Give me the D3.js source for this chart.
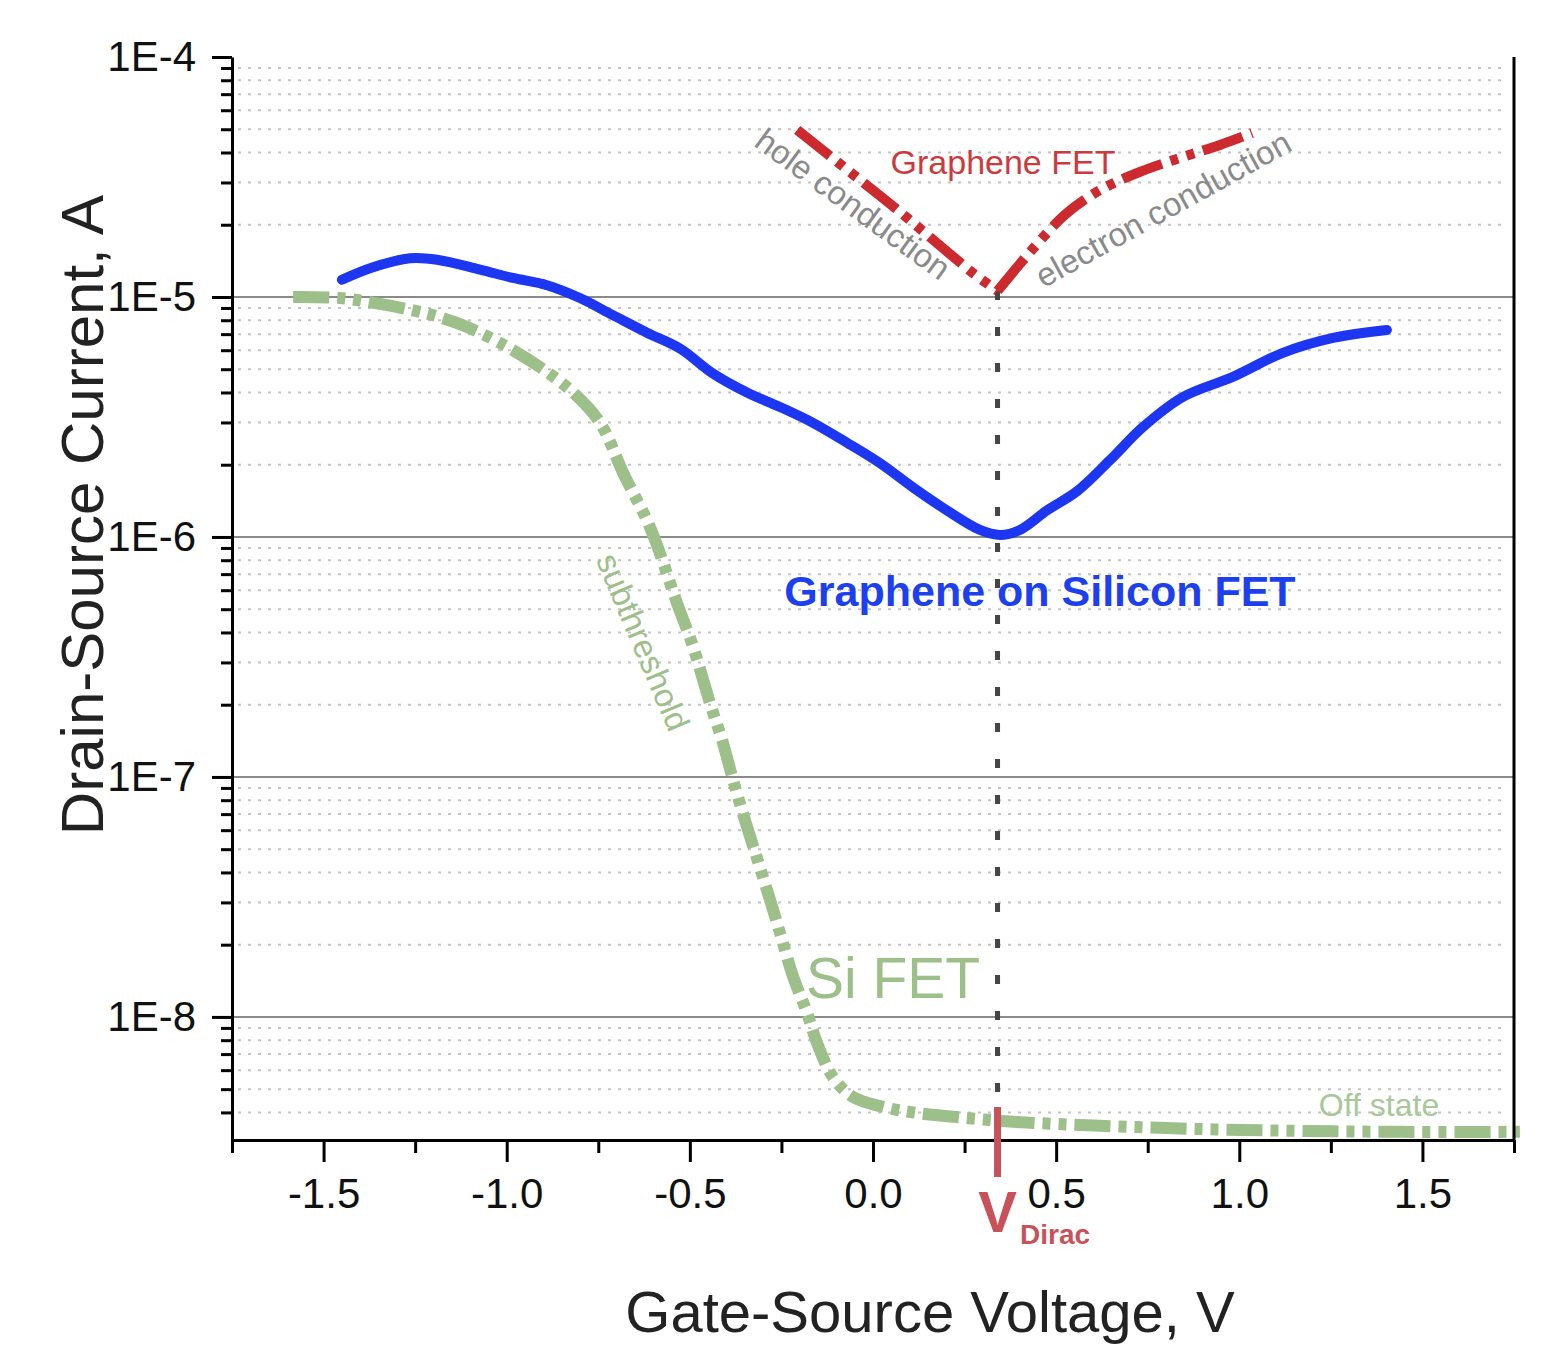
<!DOCTYPE html>
<html><head><meta charset="utf-8">
<style>
body { margin: 0; background: #fff; }
svg { font-family: "Liberation Sans", Arial, sans-serif; }
.axis path, .axis line { stroke: #000; stroke-width: 3px; }
.axis text { font-size: 42px; fill: #111; }
</style>
</head>
<body>
<svg width="1545" height="1348"></svg>
<script src="https://cdn.jsdelivr.net/npm/d3@7"></script>
<script>

// tick values
var xMajor = [-1.5, -1.0, -0.5, 0.0, 0.5, 1.0, 1.5];
var xMinor = [-1.75, -1.25, -0.75, -0.25, 0.25, 0.75, 1.25, 1.75];
var yMajor = [1e-4, 1e-5, 1e-6, 1e-7, 1e-8];
var yLabels = ["1E-4", "1E-5", "1E-6", "1E-7", "1E-8"];

// graphene on silicon FET (blue)
var gsV = [-1.450, -1.365, -1.264, -1.190, -1.073, -0.983, -0.890, -0.800, -0.710, -0.617,
           -0.527, -0.437, -0.344, -0.254, -0.164, -0.071, 0.019, 0.109, 0.202, 0.292,
           0.347, 0.401, 0.475, 0.557, 0.647, 0.737, 0.846, 0.983, 1.119, 1.256, 1.403];
var gsI = [1.18e-5, 1.33e-5, 1.45e-5, 1.43e-5, 1.30e-5, 1.20e-5, 1.12e-5, 9.9e-6, 8.4e-6, 7.1e-6,
           6.1e-6, 4.8e-6, 4.0e-6, 3.48e-6, 2.99e-6, 2.47e-6, 2.03e-6, 1.61e-6, 1.29e-6, 1.07e-6,
           1.02e-6, 1.07e-6, 1.29e-6, 1.55e-6, 2.09e-6, 2.87e-6, 3.83e-6, 4.65e-6, 5.85e-6, 6.75e-6, 7.29e-6];

// Si FET (green)
var siV = [-1.583, -1.455, -1.354, -1.256, -1.190, -1.108, -0.999, -0.909, -0.819, -0.745,
           -0.680, -0.609, -0.535, -0.491, -0.445, -0.410, -0.382, -0.344, -0.317, -0.281,
           -0.254, -0.218, -0.180, -0.153, -0.109, -0.055, 0.027, 0.120, 0.257, 0.393,
           0.620, 0.893, 1.166, 1.439, 1.766];
var siI = [1.0e-5, 9.9e-6, 9.4e-6, 8.8e-6, 8.3e-6, 7.5e-6, 6.2e-6, 5.1e-6, 4.0e-6, 2.99e-6,
           1.82e-6, 1.10e-6, 5.3e-7, 3.48e-7, 2.03e-7, 1.39e-7, 9.7e-8, 6.2e-8, 4.6e-8, 3.07e-8,
           2.24e-8, 1.47e-8, 1.04e-8, 7.8e-9, 5.6e-9, 4.64e-9, 4.22e-9, 3.98e-9, 3.79e-9, 3.65e-9,
           3.52e-9, 3.41e-9, 3.35e-9, 3.32e-9, 3.32e-9];

// graphene FET (red), hole and electron branches
var holeV = [-0.207, -0.063, 0.074, 0.197, 0.278, 0.340];
var holeI = [4.97e-5, 3.32e-5, 2.26e-5, 1.57e-5, 1.24e-5, 1.06e-5];
var elecV = [0.340, 0.429, 0.524, 0.620, 0.729, 0.838, 0.947, 1.035];
var elecI = [1.06e-5, 1.54e-5, 2.2e-5, 2.79e-5, 3.32e-5, 3.8e-5, 4.3e-5, 4.82e-5];

var vDirac = 0.34;

var svg = d3.select("svg");

var x = d3.scaleLinear().domain([-1.75, 1.75]).range([232, 1514]);
var y = d3.scaleLog().domain([3.07e-9, 1e-4]).range([1140, 57]);

var yMinor = [];
for (var e = -9; e <= -5; e++) {
  for (var m = 2; m <= 9; m++) {
    var v = m * Math.pow(10, e);
    if (v > y.domain()[0] && v < y.domain()[1]) yMinor.push(v);
  }
}

// grid
svg.append("g").selectAll("line")
    .data(yMinor)
  .enter().append("line")
    .attr("x1", x(-1.75) + 6).attr("x2", x(1.75) - 8)
    .attr("y1", function(d) { return y(d); })
    .attr("y2", function(d) { return y(d); })
    .style("stroke", "#c4c4c4")
    .style("stroke-width", 2)
    .style("stroke-dasharray", "3,7");

svg.append("g").selectAll("line")
    .data(yMajor.slice(1))
  .enter().append("line")
    .attr("x1", x(-1.75)).attr("x2", x(1.75))
    .attr("y1", function(d) { return y(d); })
    .attr("y2", function(d) { return y(d); })
    .style("stroke", "#8a8a8a")
    .style("stroke-width", 2);

// Dirac dashed line
svg.append("line")
    .attr("x1", x(vDirac)).attr("x2", x(vDirac))
    .attr("y1", y(1.06e-5)).attr("y2", y.range()[0])
    .style("stroke", "#444")
    .style("stroke-width", 5)
    .style("stroke-dasharray", "9,27");

// curves
var line = d3.line()
    .curve(d3.curveCatmullRom)
    .x(function(d) { return x(d[0]); })
    .y(function(d) { return y(d[1]); });

svg.append("path")
    .attr("d", line(d3.zip(siV, siI)))
    .style("fill", "none")
    .style("stroke", "#9dbf8a")
    .style("stroke-width", 12)
    .style("stroke-dasharray", "36,8,8,8,8,8");

svg.append("path")
    .attr("d", line(d3.zip(gsV, gsI)))
    .style("fill", "none")
    .style("stroke", "#1c36f2")
    .style("stroke-width", 10)
    .style("stroke-linecap", "round")
    .style("stroke-linejoin", "round");

[d3.zip(holeV, holeI), d3.zip(elecV, elecI)].forEach(function(seg) {
  svg.append("path")
      .attr("d", line(seg))
      .style("fill", "none")
      .style("stroke", "#cc2a2e")
      .style("stroke-width", 10)
      .style("stroke-dasharray", "42,9,8,9,8,9");
});

// axes
svg.append("g")
    .attr("class", "axis")
    .attr("transform", "translate(0," + y.range()[0] + ")")
    .call(d3.axisBottom(x).tickValues(xMinor).tickSize(13).tickFormat(""))
    .call(function(g) { g.select(".domain").remove(); });

svg.append("g")
    .attr("class", "axis")
    .attr("transform", "translate(0," + y.range()[0] + ")")
    .call(d3.axisBottom(x).tickValues(xMajor).tickSize(22).tickSizeOuter(0).tickPadding(16)
      .tickFormat(function(d) { return d.toFixed(1); }));

svg.append("g")
    .attr("class", "axis")
    .attr("transform", "translate(" + x.range()[0] + ",0)")
    .call(d3.axisLeft(y).tickValues(yMinor).tickSize(11).tickFormat(""))
    .call(function(g) { g.select(".domain").remove(); });

svg.append("g")
    .attr("class", "axis")
    .attr("transform", "translate(" + x.range()[0] + ",0)")
    .call(d3.axisLeft(y).tickValues(yMajor).tickSize(20).tickSizeOuter(0).tickPadding(16)
      .tickFormat(function(d, i) { return yLabels[i]; }));

svg.append("line")
    .attr("x1", x.range()[1]).attr("x2", x.range()[1])
    .attr("y1", y.range()[1]).attr("y2", y.range()[0] + 1)
    .style("stroke", "#000")
    .style("stroke-width", 3);

// axis titles
svg.append("text")
    .attr("transform", "translate(103,515) rotate(-90)")
    .attr("text-anchor", "middle")
    .style("font-size", "60px")
    .style("fill", "#222")
    .text("Drain-Source Current, A");

svg.append("text")
    .attr("x", 930).attr("y", 1332)
    .attr("text-anchor", "middle")
    .style("font-size", "58px")
    .style("fill", "#222")
    .text("Gate-Source Voltage, V");

// Dirac marker
svg.append("line")
    .attr("x1", x(vDirac)).attr("x2", x(vDirac))
    .attr("y1", 1107).attr("y2", 1177)
    .style("stroke", "#c9515a")
    .style("stroke-width", 7);

svg.append("text")
    .attr("x", x(vDirac)).attr("y", 1232)
    .attr("text-anchor", "middle")
    .style("font-size", "58px").style("font-weight", "bold")
    .style("fill", "#c9515a")
    .text("V");

svg.append("text")
    .attr("x", 1020).attr("y", 1244)
    .style("font-size", "28px").style("font-weight", "bold")
    .style("fill", "#c9515a")
    .text("Dirac");

// annotations
svg.append("text")
    .attr("x", 1040).attr("y", 606)
    .attr("text-anchor", "middle")
    .style("font-size", "43px").style("font-weight", "bold")
    .style("fill", "#1c40f0")
    .text("Graphene on Silicon FET");

svg.append("text")
    .attr("x", 893).attr("y", 998)
    .attr("text-anchor", "middle")
    .style("font-size", "57px")
    .style("fill", "#9dbf8a")
    .text("Si FET");

svg.append("text")
    .attr("x", 1003).attr("y", 174)
    .attr("text-anchor", "middle")
    .style("font-size", "34px")
    .style("fill", "#cc3a3e")
    .text("Graphene FET");

svg.append("text")
    .attr("transform", "translate(853,204) rotate(36)")
    .attr("text-anchor", "middle")
    .attr("dominant-baseline", "central")
    .style("font-size", "33px")
    .style("fill", "#8a8a8a")
    .text("hole conduction");

svg.append("text")
    .attr("transform", "translate(1163,209) rotate(-29)")
    .attr("text-anchor", "middle")
    .attr("dominant-baseline", "central")
    .style("font-size", "33px")
    .style("fill", "#8a8a8a")
    .text("electron conduction");

svg.append("text")
    .attr("transform", "translate(643,642) rotate(67)")
    .attr("text-anchor", "middle")
    .attr("dominant-baseline", "central")
    .style("font-size", "33px")
    .style("fill", "#9dbf8a")
    .text("subthreshold");

svg.append("text")
    .attr("x", 1379).attr("y", 1116)
    .attr("text-anchor", "middle")
    .style("font-size", "32px")
    .style("fill", "#a9c89a")
    .text("Off state");

</script>
</body></html>
